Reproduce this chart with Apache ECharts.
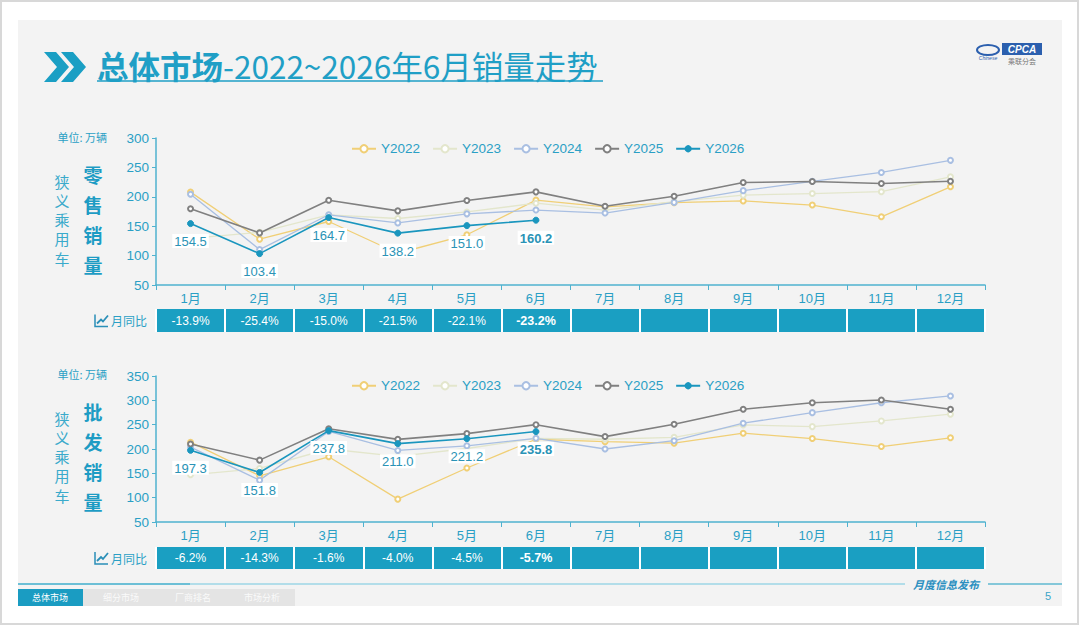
<!DOCTYPE html>
<html><head><meta charset="utf-8">
<script src="https://cdn.jsdelivr.net/npm/echarts@6/dist/echarts.min.js"></script>
<style>html,body{margin:0;padding:0;background:#fff;}#c{width:1080px;height:627px;}</style>
</head><body><div id="c"></div><script>
// ---------- data ----------
const months = ['1月','2月','3月','4月','5月','6月','7月','8月','9月','10月','11月','12月'];
const seriesNames = ['Y2022','Y2023','Y2024','Y2025','Y2026'];

const retail2022 = [208, 128, 158, 104, 135.4, 194.3, 183, 190, 193, 186, 166, 217];
const retail2023 = [129.4, 139.7, 169.2, 163.1, 174.2, 189.1, 177.4, 191.9, 202.8, 205.5, 208.7, 234];
const retail2024 = [204.4, 110.2, 169.4, 155.6, 171.0, 177.4, 172.3, 190.5, 210.5, 226.4, 241.4, 262];
const retail2025 = [179.6, 138.6, 194.0, 176.1, 193.8, 208.4, 184, 201, 224.3, 226, 222.6, 226.5];
const retail2026 = [154.5, 103.4, 164.7, 138.2, 151.0, 160.2];
const retailYoy = ['-13.9%','-25.4%','-15.0%','-21.5%','-22.1%','-23.2%','','','','','',''];
const retailTicks = {min: 50, max: 300, interval: 50};

const wholesale2022 = [214, 145, 184, 97, 161, 220, 215, 212, 232.5, 221.5, 205, 223];
const wholesale2023 = [147, 160, 200, 185, 201, 222, 220, 224, 249.5, 246, 257.7, 271.5];
const wholesale2024 = [204, 136, 236, 197, 206.5, 222, 200, 217, 253, 274.7, 295, 309];
const wholesale2025 = [210.3, 177.1, 241.7, 219.8, 231.6, 250, 225.5, 251, 281.7, 295, 300.8, 281.7];
const wholesale2026 = [197.3, 151.8, 237.8, 211.0, 221.2, 235.8];
const wholesaleYoy = ['-6.2%','-14.3%','-1.6%','-4.0%','-4.5%','-5.7%','','','','','',''];
const wholesaleTicks = {min: 50, max: 350, interval: 50};

// ---------- style ----------
const FONT = '"Liberation Sans","Noto Sans CJK SC",sans-serif';
const CJK = '"Noto Sans CJK SC",sans-serif';
const TEAL = '#2a9fc5';
const AXIS = '#4fb2cf';
const CELL = '#1a9fc2';
const colors = {Y2022:'#f0cf76', Y2023:'#e3e6cc', Y2024:'#a9bfe2', Y2025:'#808080', Y2026:'#1a96be'};
const highlightIndex = 5;

function chartX(gi){
  return {gridIndex: gi, type:'category', data: months, boundaryGap: true,
    axisLine:{show:true, lineStyle:{color:AXIS, width:1.5}},
    axisTick:{show:true, length:5, lineStyle:{color:AXIS}},
    axisLabel:{interval:0, color:TEAL, fontSize:13, fontFamily:FONT, margin:7},
    splitLine:{show:false}};
}
function chartY(gi, t){
  return {gridIndex: gi, type:'value', min:t.min, max:t.max, interval:t.interval,
    axisLine:{show:true, lineStyle:{color:AXIS, width:1.5}},
    axisTick:{show:true, length:4, lineStyle:{color:AXIS}},
    axisLabel:{color:TEAL, fontSize:13.5, fontFamily:FONT, margin:7},
    splitLine:{show:false}};
}
function tableX(gi, yoy){
  return {gridIndex: gi, type:'category', data: months, boundaryGap:true, position:'bottom',
    axisLine:{show:false}, axisTick:{show:false},
    splitLine:{show:true, interval:0, lineStyle:{color:'#ffffff', width:2}},
    axisLabel:{interval:0, inside:true, margin:11.5, verticalAlign:'middle', color:'#fff', fontSize:12, fontFamily:FONT,
      formatter:(v, i) => i === highlightIndex ? '{b|' + yoy[i] + '}' : yoy[i],
      rich:{b:{fontWeight:'bold', color:'#fff', fontSize:12.5, fontFamily:FONT}}}};
}
function tableY(gi){
  return {gridIndex: gi, type:'value', min:0, max:1, show:false};
}
function lineSeries(name, data, axisIdx){
  const is26 = name === 'Y2026';
  const s = {
    name, type:'line', xAxisIndex:axisIdx, yAxisIndex:axisIdx,
    data: is26 ? data.map((v,i)=> i===highlightIndex ? {value:v, label:{fontWeight:'bold'}} : v) : data,
    symbol: is26 ? 'circle' : 'emptyCircle', symbolSize: is26 ? 6 : 5,
    itemStyle:{color:colors[name], borderColor: colors[name]},
    lineStyle:{color:colors[name], width: (name==='Y2025'||is26) ? 1.6 : 1.3},
    z: is26 ? 10 : (name==='Y2025' ? 8 : 5),
    animation:false
  };
  if (is26) {
    s.label = {show:true, position:'bottom', distance:7, color:'#2a93b6', fontSize:13, fontFamily:FONT,
      backgroundColor:'#ffffff', padding:[1,2,0,2], formatter:(p) => Number(p.value).toFixed(1)};
  }
  return s;
}

const retailData = {Y2022:retail2022, Y2023:retail2023, Y2024:retail2024, Y2025:retail2025, Y2026:retail2026};
const wholesaleData = {Y2022:wholesale2022, Y2023:wholesale2023, Y2024:wholesale2024, Y2025:wholesale2025, Y2026:wholesale2026};

const series = [];
seriesNames.forEach(n => series.push(lineSeries(n, retailData[n], 0)));
seriesNames.forEach(n => series.push(lineSeries(n, wholesaleData[n], 2)));

function legend(top){
  return {top, left:346, orient:'horizontal', itemWidth:24, itemHeight:9, itemGap:12,
    data: seriesNames,
    textStyle:{color:TEAL, fontSize:13.5, fontFamily:FONT, padding:[0,0,0,0]}};
}

// ---------- decorations ----------
function stack(text, x, y0, step, font, fill){
  return text.split('').map((ch, i) => ({type:'text', x, y:y0 + i*step, z:5,
    style:{text:ch, fill, font, align:'center', verticalAlign:'middle'}}));
}
function sideLabels(y0, boldText){
  const els = [];
  els.push({type:'text', x:107, y:y0, z:5, style:{text:'单位: 万辆', fill:TEAL, font:'11px ' + CJK, align:'right', verticalAlign:'middle'}});
  els.push(...stack('狭义乘用车', 62, y0+44, 19.3, '15px ' + CJK, '#3aaacb'));
  els.push(...stack(boldText, 93, y0+37, 30, 'bold 19px ' + CJK, '#1d9cc4'));
  return els;
}
function yoyLabel(yc){
  return [
    {type:'polyline', z:5, shape:{points:[[95,yc-6],[95,yc+6],[108,yc+6]]}, style:{stroke:'#2a8fb8', lineWidth:1.5, fill:null}},
    {type:'polyline', z:5, shape:{points:[[97,yc+3],[101,yc-1],[103,yc+1],[108,yc-5]]}, style:{stroke:'#2a8fb8', lineWidth:1.8, fill:null}},
    {type:'text', x:111, y:yc, z:5, style:{text:'月同比', fill:TEAL, font:'12px ' + CJK, verticalAlign:'middle'}}
  ];
}

const graphic = [
  {type:'rect', z:-20, shape:{x:1, y:1, width:1077, height:623}, style:{fill:'#ffffff', stroke:'#d8d8d8', lineWidth:2}},
  {type:'rect', z:-19, shape:{x:18, y:20, width:1044, height:586}, style:{fill:'#f3f3f3'}},
  // title chevrons
  {type:'polygon', z:5, shape:{points:[[44,52],[56,52],[69,67],[56,82],[44,82],[57,67]]}, style:{fill:'#1a9fc4'}},
  {type:'polygon', z:5, shape:{points:[[61,52],[73,52],[86,67],[73,82],[61,82],[74,67]]}, style:{fill:'#1a9fc4'}},
  {type:'text', x:97, y:65, z:5, style:{text:'{a|总体市场}{b|-2022~2026年6月销量走势}', verticalAlign:'middle',
    rich:{a:{fontWeight:'bold', fontSize:31.5, fontFamily:CJK, fill:'#1f9fc6', color:'#1f9fc6'},
          b:{fontSize:31.5, fontFamily:CJK, fill:'#1f9fc6', color:'#1f9fc6'}}}},
  {type:'line', z:5, shape:{x1:97, y1:81, x2:603, y2:81}, style:{stroke:'#1f9fc6', lineWidth:1.5}},
  // logo
  {type:'ellipse', z:5, shape:{cx:988, cy:50, rx:11, ry:5}, style:{fill:null, stroke:'#2b5fae', lineWidth:2}},
  {type:'text', x:988, y:58, z:5, style:{text:'Chinese', fill:'#2b5fae', font:'italic 5px ' + FONT, align:'center', verticalAlign:'middle'}},
  {type:'rect', z:5, shape:{x:1002, y:43, width:40, height:12}, style:{fill:'#2b5fae'}},
  {type:'text', x:1022, y:49, z:6, style:{text:'CPCA', fill:'#fff', font:'italic bold 10px ' + FONT, align:'center', verticalAlign:'middle'}},
  {type:'text', x:1022, y:61, z:5, style:{text:'乘联分会', fill:'#777', font:'7px ' + CJK, align:'center', verticalAlign:'middle'}},
  // footer
  {type:'line', z:5, shape:{x1:18, y1:584, x2:905, y2:584}, style:{stroke:'#9dd6e6', lineWidth:1.5}},
  {type:'line', z:5, shape:{x1:18, y1:584, x2:190, y2:584}, style:{stroke:'#6cbfd6', lineWidth:2}},
  {type:'line', z:5, shape:{x1:988, y1:584, x2:1062, y2:584}, style:{stroke:'#5fb8d0', lineWidth:1.5}},
  {type:'text', x:946, y:584, z:5, style:{text:'月度信息发布', fill:'#2a8fc0', font:'italic bold 11px ' + CJK, align:'center', verticalAlign:'middle'}},
  {type:'text', x:1048, y:596, z:5, style:{text:'5', fill:'#3aa5c8', font:'11px ' + FONT, align:'center', verticalAlign:'middle'}},
  {type:'rect', z:5, shape:{x:18, y:589, width:65, height:17}, style:{fill:'#1a9cc2'}},
  {type:'text', x:50, y:597.5, z:6, style:{text:'总体市场', fill:'#fff', font:'9px ' + CJK, align:'center', verticalAlign:'middle'}},
  {type:'rect', z:5, shape:{x:83, y:589, width:212, height:17}, style:{fill:'#e4e4e4'}},
  {type:'text', x:121, y:597.5, z:6, style:{text:'细分市场', fill:'#fafafa', font:'9px ' + CJK, align:'center', verticalAlign:'middle'}},
  {type:'text', x:193, y:597.5, z:6, style:{text:'厂商排名', fill:'#fafafa', font:'9px ' + CJK, align:'center', verticalAlign:'middle'}},
  {type:'text', x:262, y:597.5, z:6, style:{text:'市场分析', fill:'#fafafa', font:'9px ' + CJK, align:'center', verticalAlign:'middle'}},
  ...sideLabels(137, '零售销量'),
  ...sideLabels(374, '批发销量'),
  ...yoyLabel(320.5),
  ...yoyLabel(558)
];

const option = {
  animation:false,
  backgroundColor:'transparent',
  textStyle:{fontFamily:FONT},
  grid:[
    {left:156, right:95, top:138, height:147, show:false},
    {left:156, right:95, top:309, height:23, show:true, backgroundColor:CELL, borderWidth:0},
    {left:156, right:95, top:376, height:146, show:false},
    {left:156, right:95, top:547, height:22, show:true, backgroundColor:CELL, borderWidth:0}
  ],
  xAxis:[chartX(0), tableX(1, retailYoy), chartX(2), tableX(3, wholesaleYoy)],
  yAxis:[chartY(0, retailTicks), tableY(1), chartY(2, wholesaleTicks), tableY(3)],
  legend:[legend(137), legend(374)],
  graphic,
  series
};
const chart = echarts.init(document.getElementById('c'), null, {renderer:'svg'});
chart.setOption(option);
</script></body></html>
